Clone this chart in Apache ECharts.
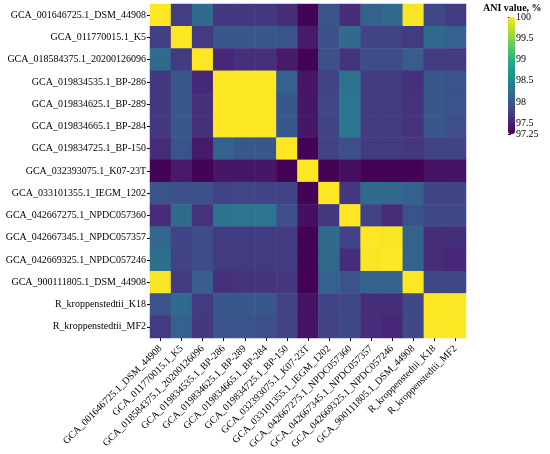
<!DOCTYPE html>
<html>
<head>
<meta charset="utf-8">
<script src="https://cdn.jsdelivr.net/npm/echarts@6/dist/echarts.min.js"></script>
<style>
  html, body { margin: 0; padding: 0; background: #fff; }
  #chart { width: 550px; height: 454px; }
</style>
</head>
<body>
<div id="chart"></div>
<script>
// 基因组名称（行从上到下，列从左到右）
const genomes = [
  "GCA_001646725.1_DSM_44908",
  "GCA_011770015.1_K5",
  "GCA_018584375.1_20200126096",
  "GCA_019834535.1_BP-286",
  "GCA_019834625.1_BP-289",
  "GCA_019834665.1_BP-284",
  "GCA_019834725.1_BP-150",
  "GCA_032393075.1_K07-23T",
  "GCA_033101355.1_IEGM_1202",
  "GCA_042667275.1_NPDC057360",
  "GCA_042667345.1_NPDC057357",
  "GCA_042669325.1_NPDC057246",
  "GCA_900111805.1_DSM_44908",
  "R_kroppenstedtii_K18",
  "R_kroppenstedtii_MF2"
];

// ANI 矩阵（%），按行读取
const aniRows = [
  [100, 97.75, 98.2, 97.7, 97.7, 97.7, 97.6, 97.27, 97.95, 97.6, 98.1, 98.2, 99.97, 97.85, 97.72],
  [97.75, 100, 97.72, 98.0, 98.0, 98.0, 97.95, 97.45, 97.92, 98.2, 97.78, 97.78, 97.72, 98.18, 98.1],
  [98.2, 97.72, 100, 97.55, 97.62, 97.62, 97.45, 97.27, 97.92, 97.65, 97.88, 97.88, 98.05, 97.72, 97.72],
  [97.7, 98.0, 97.55, 100, 100, 100, 98.1, 97.42, 97.78, 98.3, 97.72, 97.72, 97.62, 98.0, 97.95],
  [97.7, 98.0, 97.62, 100, 100, 100, 98.0, 97.42, 97.82, 98.32, 97.72, 97.72, 97.65, 98.0, 97.95],
  [97.7, 98.0, 97.62, 100, 100, 100, 98.0, 97.42, 97.78, 98.32, 97.72, 97.72, 97.65, 98.0, 97.9],
  [97.6, 97.95, 97.45, 98.1, 98.0, 98.0, 100, 97.27, 97.78, 97.9, 97.72, 97.72, 97.68, 97.78, 97.78],
  [97.27, 97.45, 97.27, 97.42, 97.42, 97.42, 97.27, 100, 97.27, 97.37, 97.26, 97.26, 97.26, 97.38, 97.38],
  [97.95, 97.92, 97.92, 97.78, 97.82, 97.78, 97.78, 97.27, 100, 97.68, 98.2, 98.18, 98.1, 97.8, 97.78],
  [97.6, 98.2, 97.65, 98.3, 98.32, 98.32, 97.9, 97.37, 97.68, 100, 97.78, 97.6, 97.95, 97.85, 97.85],
  [98.15, 97.78, 97.88, 97.72, 97.72, 97.72, 97.72, 97.26, 98.2, 97.78, 100, 99.98, 98.12, 97.6, 97.6],
  [98.25, 97.78, 97.88, 97.72, 97.72, 97.72, 97.72, 97.26, 98.18, 97.6, 99.98, 100, 98.12, 97.6, 97.55],
  [99.97, 97.72, 98.05, 97.62, 97.65, 97.65, 97.68, 97.26, 98.1, 97.95, 98.12, 98.12, 100, 97.85, 97.85],
  [97.95, 98.2, 97.72, 98.0, 98.0, 98.0, 97.78, 97.38, 97.8, 97.85, 97.6, 97.6, 97.85, 100, 99.99],
  [97.72, 98.1, 97.7, 97.95, 97.95, 97.9, 97.78, 97.38, 97.78, 97.85, 97.6, 97.55, 97.85, 99.99, 100]
];

// 色标刻度
const scaleMin = 97.25;
const scaleMax = 100;
const scaleTicks = [97.25, 97.5, 98, 98.5, 99, 99.5, 100];

const viridis = ["#440154", "#482475", "#414487", "#355f8d", "#2a788e",
                 "#21918c", "#22a884", "#44bf70", "#7ad151", "#bddf26", "#fde725"];

const cells = [];
aniRows.forEach((row, i) => {
  row.forEach((v, j) => cells.push([j, i, v]));
});

const font = "Liberation Serif";
const chart = echarts.init(document.getElementById("chart"));
chart.setOption({
  backgroundColor: "#fff",
  animation: false,
  title: {
    text: "ANI value, %",
    left: 483,
    top: 3,
    padding: 0,
    textStyle: { fontFamily: font, fontSize: 10, fontWeight: "bold", color: "#000" }
  },
  grid: [
    { left: 150, top: 4, width: 316, height: 334 },
    { left: 508, top: 17, width: 7, height: 117 }
  ],
  xAxis: [
    {
      type: "category",
      data: genomes,
      gridIndex: 0,
      axisLine: { show: false },
      axisTick: { show: true, length: 3, alignWithLabel: true, lineStyle: { color: "#000" } },
      axisLabel: { rotate: 45, fontFamily: font, fontSize: 10, color: "#000", margin: 9, interval: 0 },
      splitLine: { show: false }
    },
    { type: "value", gridIndex: 1, show: false, min: 0, max: 1 }
  ],
  yAxis: [
    {
      type: "category",
      data: genomes,
      inverse: true,
      gridIndex: 0,
      axisLine: { show: false },
      axisTick: { show: true, length: 3, alignWithLabel: true, lineStyle: { color: "#000" } },
      axisLabel: { fontFamily: font, fontSize: 10, color: "#000", margin: 4, interval: 0 },
      splitLine: { show: false }
    },
    {
      type: "value",
      gridIndex: 1,
      position: "right",
      min: scaleMin,
      max: scaleMax,
      axisLine: { show: false },
      axisTick: { show: true, length: 3, inside: false, customValues: scaleTicks, lineStyle: { color: "#000" } },
      axisLabel: { customValues: scaleTicks, fontFamily: font, fontSize: 10, color: "#000", margin: 1,
                   formatter: v => String(v) },
      splitLine: { show: false }
    }
  ],
  visualMap: {
    type: "continuous",
    seriesIndex: 0,
    min: scaleMin,
    max: scaleMax,
    calculable: false,
    left: 508,
    top: 17,
    padding: 0,
    itemWidth: 7,
    itemHeight: 117,
    text: null,
    showLabel: false,
    inRange: { color: viridis }
  },
  series: [{
    type: "heatmap",
    xAxisIndex: 0,
    yAxisIndex: 0,
    data: cells,
    emphasis: { disabled: true }
  }]
});
</script>
</body>
</html>
